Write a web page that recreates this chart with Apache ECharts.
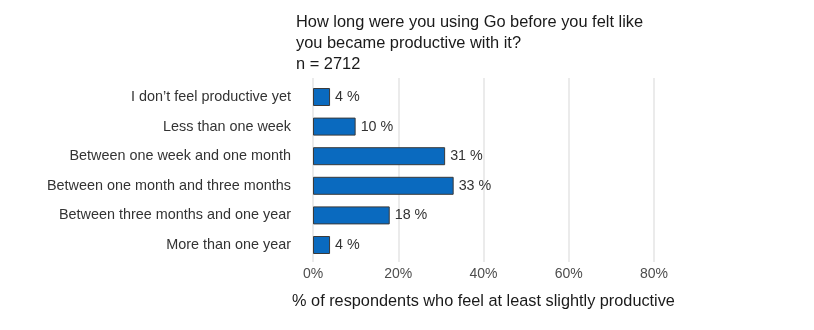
<!DOCTYPE html>
<html>
<head>
<meta charset="utf-8">
<script src="https://cdn.jsdelivr.net/npm/echarts@6/dist/echarts.min.js"></script>
<style>
  html, body { margin: 0; padding: 0; background: #fff; }
  #chart { width: 814px; height: 330px; }
</style>
</head>
<body>
<div id="chart"></div>
<script>
// Time to productivity with Go, share of respondents per answer
const categories = [
  'I don\u2019t feel productive yet',
  'Less than one week',
  'Between one week and one month',
  'Between one month and three months',
  'Between three months and one year',
  'More than one year'
];
const shares = [4, 10, 31, 33, 18, 4];
const xTicks = [0, 20, 40, 60, 80];
const titleLines = [
  'How long were you using Go before you felt like',
  'you became productive with it?',
  'n = 2712'
];
const axisTitle = '% of respondents who feel at least slightly productive';

const FONT = '"Liberation Sans", Arial, Helvetica, sans-serif';
const chart = echarts.init(document.getElementById('chart'), null, { renderer: 'canvas' });

chart.setOption({
  animation: false,
  backgroundColor: '#ffffff',
  textStyle: { fontFamily: FONT },
  title: {
    text: titleLines.join('\n'),
    left: 291,
    top: 6.5,
    textStyle: { fontFamily: FONT, fontSize: 16.4, fontWeight: 'normal', color: '#1a1a1a', lineHeight: 21 }
  },
  grid: [
    // background grid holding the vertical gridlines and tick labels
    { left: 313, right: 160, top: 78, bottom: 68 },
    // bars
    { left: 313, right: 160, top: 82.2, bottom: 70.2 }
  ],
  xAxis: [
    {
      gridIndex: 0,
      type: 'value',
      min: xTicks[0],
      max: xTicks[xTicks.length - 1],
      interval: 20,
      axisLine: { show: false },
      axisTick: { show: false },
      splitLine: { show: true, lineStyle: { color: '#ebebeb', width: 2 } },
      axisLabel: {
        margin: 5,
        fontFamily: FONT,
        fontSize: 14,
        color: '#4d4d4d',
        formatter: v => v + '%'
      },
      name: axisTitle,
      nameLocation: 'middle',
      nameGap: 32,
      nameTextStyle: { fontFamily: FONT, fontSize: 16.3, color: '#1a1a1a' }
    },
    {
      gridIndex: 1,
      type: 'value',
      min: xTicks[0],
      max: xTicks[xTicks.length - 1],
      show: false
    }
  ],
  yAxis: [
    {
      gridIndex: 0,
      type: 'value',
      show: false
    },
    {
      gridIndex: 1,
      type: 'category',
      data: categories,
      inverse: true,
      axisLine: { show: false },
      axisTick: { show: false },
      splitLine: { show: false },
      axisLabel: {
        margin: 22,
        fontFamily: FONT,
        fontSize: 14.4,
        color: '#333333'
      }
    }
  ],
  series: [{
    type: 'bar',
    xAxisIndex: 1,
    yAxisIndex: 1,
    data: shares,
    barWidth: 18,
    itemStyle: { color: '#0a6abf', borderColor: '#3a3a3a', borderWidth: 1 },
    label: {
      show: true,
      position: 'right',
      distance: 5,
      fontFamily: FONT,
      fontSize: 14.3,
      color: '#333333',
      formatter: p => p.value + ' %'
    }
  }]
});
</script>
</body>
</html>
